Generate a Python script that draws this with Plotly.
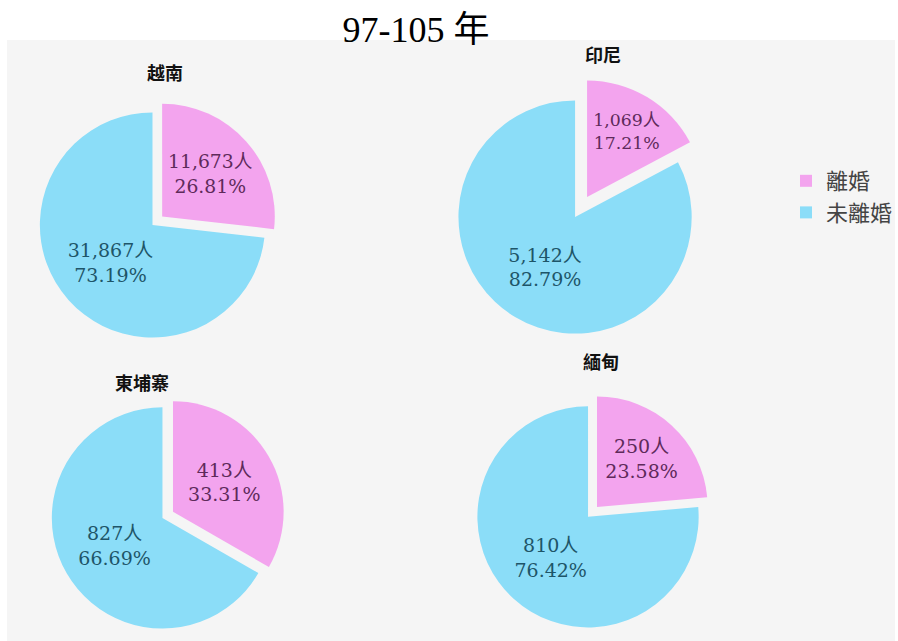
import plotly.graph_objects as go

W, H = 898, 641

title_text = "97-105 年"
labels = ["離婚", "未離婚"]
countries = ["越南", "印尼", "東埔寨", "緬甸"]
divorced = [11673, 1069, 413, 250]
not_divorced = [31867, 5142, 827, 810]

pink = "#F3A4EE"
blue = "#8BDDF8"
pink_text = "#5E2A5A"
blue_text = "#1E5568"

# layout geometry (pixel centers, radius, pull) per pie
geo = [
    dict(cx=153, cy=225, r=113, pull=0.115, tx=166, ty=72),
    dict(cx=577, cy=217, r=117, pull=0.20, tx=605, ty=54),
    dict(cx=163, cy=518, r=111, pull=0.11, tx=142, ty=382),
    dict(cx=590, cy=517, r=111, pull=0.12, tx=603, ty=361),
]

fig = go.Figure()
annotations = []
for i, name in enumerate(countries):
    g = geo[i]
    half = g["r"] * (1 + g["pull"])
    x0, x1 = (g["cx"] - half) / W, (g["cx"] + half) / W
    y0, y1 = 1 - (g["cy"] + half) / H, 1 - (g["cy"] - half) / H
    y0 = max(0.0, y0)
    y1 = min(1.0, y1)
    fig.add_trace(go.Pie(
        labels=labels,
        values=[divorced[i], not_divorced[i]],
        sort=False,
        direction="clockwise",
        rotation=0,
        pull=[g["pull"], 0],
        marker=dict(colors=[pink, blue], line=dict(width=0)),
        texttemplate="%{value:,}人<br>%{percent:.2%}",
        textposition="inside",
        insidetextorientation="horizontal",
        insidetextfont=dict(family="DejaVu Serif, Noto Sans CJK TC", size=19,
                            color=[pink_text, blue_text]),
        domain=dict(x=[x0, x1], y=[y0, y1]),
        hoverinfo="skip",
        showlegend=(i == 0),
        name=name,
    ))
    annotations.append(dict(
        text="<b>" + name + "</b>", x=g["tx"] / W, y=1 - g["ty"] / H,
        xref="paper", yref="paper", showarrow=False,
        xanchor="center", yanchor="middle",
        font=dict(family="Noto Sans CJK TC", size=18, color="#111111"),
    ))

fig.update_layout(
    width=W, height=H,
    margin=dict(l=0, r=0, t=0, b=0),
    paper_bgcolor="white",
    plot_bgcolor="white",
    title=dict(text=title_text, x=416 / W, y=1 - 29 / H, xanchor="center", yanchor="middle",
               font=dict(family="Liberation Serif, Noto Sans CJK TC", size=36, color="#000000")),
    legend=dict(x=789 / W, y=1 - 160 / H, xanchor="left", yanchor="top",
                font=dict(family="Noto Sans CJK TC", size=22, color="#444444"),
                itemwidth=30, bgcolor="rgba(0,0,0,0)"),
    annotations=annotations,
    shapes=[dict(type="rect", xref="paper", yref="paper", x0=7 / W, x1=1,
                 y0=0, y1=1 - 40 / H, fillcolor="#F5F5F5", line=dict(width=0), layer="below")],
)

fig.write_html(
    "out.html",
    config={"displayModeBar": False},
    post_script="document.body.style.margin='0px';document.body.style.overflow='hidden';",
)
